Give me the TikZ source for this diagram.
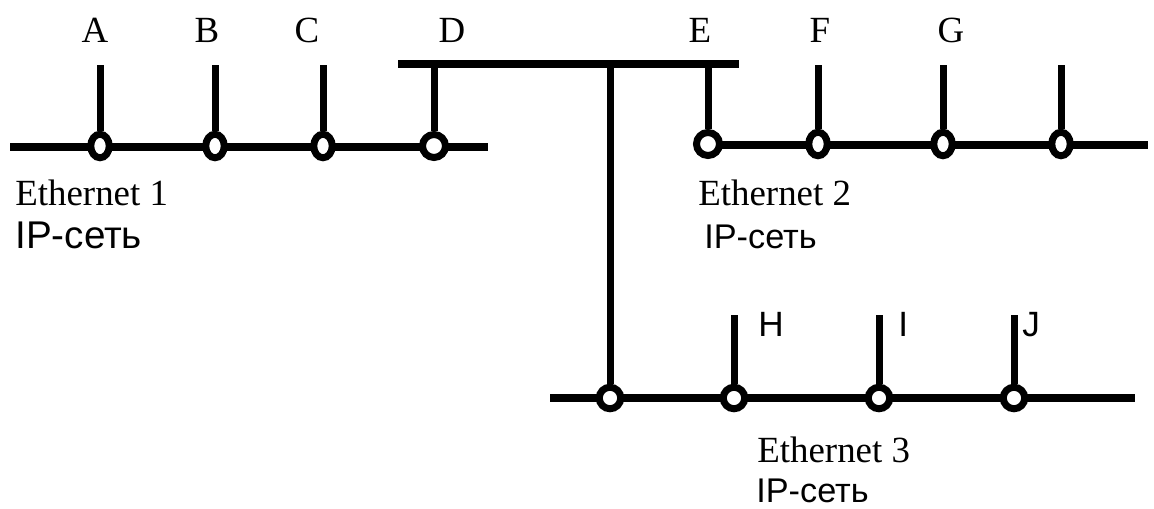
\documentclass[tikz,border=0pt]{standalone}
\usepackage{fontspec}
\setmainfont{Liberation Serif}
\newfontfamily\labelsans{Liberation Sans}
\usetikzlibrary{shapes.geometric}

\begin{document}
\begin{tikzpicture}[
			x=0.02cm,y=-0.02cm,
			every node/.style={inner sep=0pt},
			bus/.style={line width=0.16cm},
			stem/.style={line width=0.14cm},
			tap/.style={ellipse,draw,fill=white,line width=0.14cm,minimum width=0.37cm,minimum height=0.47cm},
			bigtap/.style={tap,circle,minimum size=0.46cm},
			midtap/.style={tap,circle,minimum size=0.43cm},
			host/.style={anchor=base,font=\fontsize{21}{24}\selectfont},
			net/.style={anchor=base west,font=\fontsize{21}{24}\selectfont},
			ipnet/.style={anchor=base west,font=\labelsans\fontsize{19.5}{22}\selectfont},
			sanshost/.style={anchor=base west,font=\labelsans\fontsize{20}{24}\selectfont}
			]
			\useasboundingbox (0,0) rectangle (1154,508);
			% segment ends
			\coordinate (e1l) at (10,147);
			\coordinate (e1r) at (488,147);
			\coordinate (e2l) at (708,145);
			\coordinate (e2r) at (1148,145);
			\coordinate (e3l) at (550,398);
			\coordinate (e3r) at (1135,398);
			\coordinate (gwl) at (398,64);
			\coordinate (gwr) at (739,64);
			% stem tops
			\coordinate (sA) at (100,65);
			\coordinate (sB) at (215,65);
			\coordinate (sC) at (323,65);
			\coordinate (sD) at (434,64);
			\coordinate (sE) at (708,64);
			\coordinate (sF) at (818,65);
			\coordinate (sG) at (943,65);
			\coordinate (sK) at (1061,65);
			\coordinate (sR) at (610,64);
			\coordinate (sH) at (734,315);
			\coordinate (sI) at (879,315);
			\coordinate (sJ) at (1014,315);
			% cables
			\draw[bus] (e1l)--(e1r);
			\draw[bus] (e2l)--(e2r);
			\draw[bus] (e3l)--(e3r);
			\draw[bus] (gwl)--(gwr);
			% taps
			\node[tap] (tA) at (100,146) {};
			\node[tap] (tB) at (215,146) {};
			\node[tap] (tC) at (323,146) {};
			\node[bigtap] (tD) at (434,146) {};
			\node[bigtap] (tE) at (708,144) {};
			\node[tap] (tF) at (818,144) {};
			\node[tap] (tG) at (943,144) {};
			\node[tap] (tK) at (1061,144) {};
			\node[midtap] (tR) at (610,398) {};
			\node[midtap] (tH) at (734,398) {};
			\node[midtap] (tI) at (879,398) {};
			\node[midtap] (tJ) at (1014,398) {};
			\draw[stem] (sA)--(tA);
			\draw[stem] (sB)--(tB);
			\draw[stem] (sC)--(tC);
			\draw[stem] (sD)--(tD);
			\draw[stem] (sE)--(tE);
			\draw[stem] (sF)--(tF);
			\draw[stem] (sG)--(tG);
			\draw[stem] (sK)--(tK);
			\draw[stem] (sR)--(tR);
			\draw[stem] (sH)--(tH);
			\draw[stem] (sI)--(tI);
			\draw[stem] (sJ)--(tJ);
			% labels
			\node[host] (lA) at (95,42) {A};
			\node[host] (lB) at (207,42) {B};
			\node[host] (lC) at (307,42) {C};
			\node[host] (lD) at (452,42) {D};
			\node[host] (lE) at (700,42) {E};
			\node[host] (lF) at (820,42) {F};
			\node[host] (lG) at (951,42) {G};
			\node[sanshost] (lH) at (758,336) {H};
			\node[sanshost] (lI) at (898,336) {I};
			\node[sanshost] (lJ) at (1022,336) {J};
			\node[net] (n1) at (15,205) {Ethernet 1};
			\node[ipnet,font=\labelsans\fontsize{22}{24}\selectfont] (ip1) at (15,248) {IP-сеть};
			\node[net] (n2) at (698,205) {Ethernet 2};
			\node[ipnet] (ip2) at (704,248) {IP-сеть};
			\node[net] (n3) at (757,462) {Ethernet 3};
			\node[ipnet] (ip3) at (756,502) {IP-сеть};
		\end{tikzpicture}
\end{document}
